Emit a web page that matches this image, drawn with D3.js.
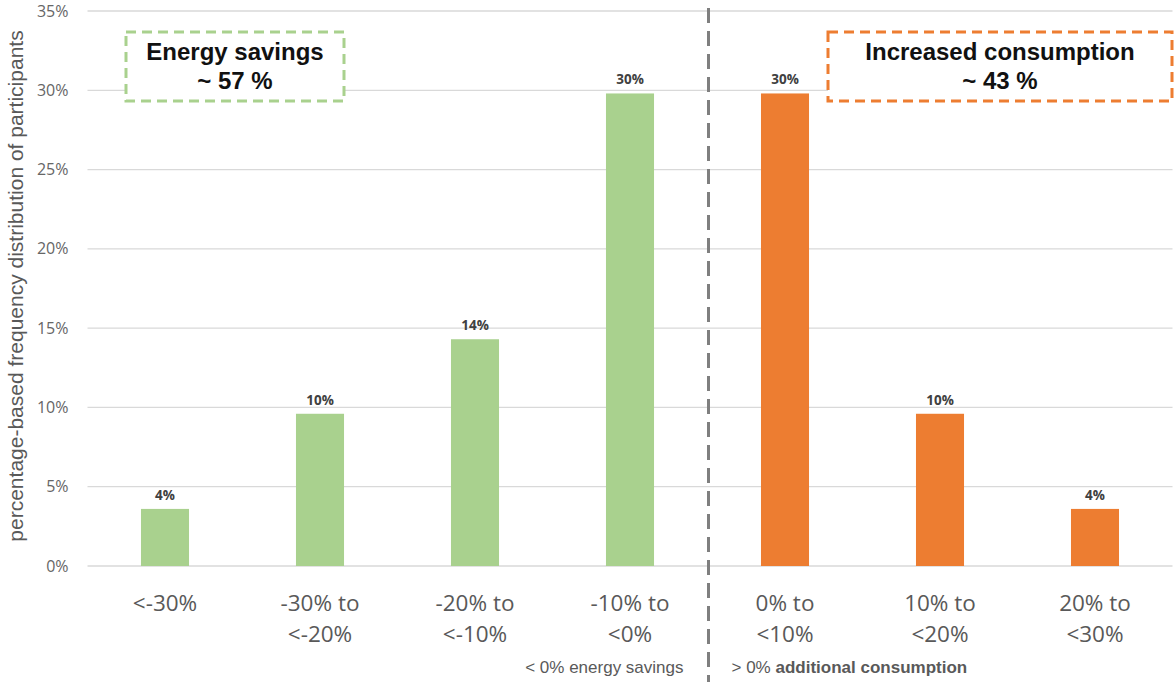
<!DOCTYPE html>
<html>
<head>
<meta charset="utf-8">
<script src="https://cdn.jsdelivr.net/npm/d3@7"></script>
<style>
  html, body { margin: 0; padding: 0; background: #fff; }
  svg { display: block; }
</style>
</head>
<body>
<svg id="chart" width="1174" height="682"></svg>
<script>
// Change bands of energy use and the share of participants in each
const categories = [
  ["<-30%"],
  ["-30% to", "<-20%"],
  ["-20% to", "<-10%"],
  ["-10% to", "<0%"],
  ["0% to", "<10%"],
  ["10% to", "<20%"],
  ["20% to", "<30%"]
];
const shares = [0.036, 0.096, 0.143, 0.298, 0.298, 0.096, 0.036];
const groups = ["savings", "savings", "savings", "savings", "increase", "increase", "increase"];
const yTicks = [0, 0.05, 0.10, 0.15, 0.20, 0.25, 0.30, 0.35];
const boxTitles = ["Energy savings", "Increased consumption"];
const boxTotals = ["~ 57 %", "~ 43 %"];

const colors = { savings: "#A9D18E", increase: "#ED7D31" };

const svg = d3.select("#chart");
const margin = { left: 87.5, right: 1.5, top: 11, bottom: 116 };
const W = 1174, H = 682;

const x = d3.scaleBand()
  .domain(d3.range(categories.length))
  .range([margin.left, W - margin.right])
  .paddingInner(0.69)
  .paddingOuter(0.345);

const y = d3.scaleLinear()
  .domain([0, 0.35])
  .range([H - margin.bottom, margin.top]);

// Horizontal gridlines
svg.append("g")
  .selectAll("line")
  .data(yTicks)
  .join("line")
  .attr("x1", margin.left)
  .attr("x2", W - margin.right)
  .attr("y1", d => y(d))
  .attr("y2", d => y(d))
  .attr("stroke", "#d9d9d9")
  .attr("stroke-width", 1.3);

// Y axis tick labels
const yAxis = d3.axisLeft(y)
  .tickValues(yTicks)
  .tickFormat(d3.format(".0%"))
  .tickSize(0)
  .tickPadding(19);
svg.append("g")
  .attr("transform", `translate(${margin.left},0)`)
  .call(yAxis)
  .call(g => g.select(".domain").remove())
  .call(g => g.selectAll("text")
    .attr("font-family", "'Open Sans', sans-serif")
    .attr("font-size", 16)
    .attr("fill", "#666"));

// Y axis title
svg.append("text")
  .attr("transform", `translate(23,286) rotate(-90)`)
  .attr("text-anchor", "middle")
  .attr("font-family", "'Liberation Sans', Arial, sans-serif")
  .attr("font-size", 21)
  .attr("fill", "#595959")
  .text("percentage-based frequency distribution of participants");

// Bars
svg.append("g")
  .selectAll("rect")
  .data(shares)
  .join("rect")
  .attr("x", (d, i) => x(i))
  .attr("width", x.bandwidth())
  .attr("y", d => y(d))
  .attr("height", d => y(0) - y(d))
  .attr("fill", (d, i) => colors[groups[i]]);

// Value labels above bars
svg.append("g")
  .selectAll("text")
  .data(shares)
  .join("text")
  .attr("x", (d, i) => x(i) + x.bandwidth() / 2)
  .attr("y", d => y(d) - 9)
  .attr("text-anchor", "middle")
  .attr("font-family", "'Open Sans', sans-serif")
  .attr("font-weight", "bold")
  .attr("font-size", 13.5)
  .attr("fill", "#404040")
  .text(d => d3.format(".0%")(d));

// Category labels (two lines)
const xl = svg.append("g")
  .selectAll("text")
  .data(categories)
  .join("text")
  .attr("x", (d, i) => x(i) + x.bandwidth() / 2)
  .attr("y", 611)
  .attr("text-anchor", "middle")
  .attr("font-family", "'Open Sans', sans-serif")
  .attr("font-size", 22.5)
  .attr("fill", "#595959");
xl.selectAll("tspan")
  .data(d => d)
  .join("tspan")
  .attr("x", function () { return d3.select(this.parentNode).attr("x"); })
  .attr("dy", (d, i) => i === 0 ? 0 : 31)
  .text(d => d);

// Divider between savings and increased consumption
const divX = (x(3) + x.bandwidth() + x(4)) / 2 + 1;
svg.append("line")
  .attr("x1", divX).attr("x2", divX)
  .attr("y1", 8).attr("y2", H)
  .attr("stroke", "#7f7f7f")
  .attr("stroke-width", 3)
  .attr("stroke-dasharray", "15,8");

// Side captions under the axis
svg.append("text")
  .attr("x", divX - 25)
  .attr("y", 673)
  .attr("text-anchor", "end")
  .attr("font-family", "'Liberation Sans', Arial, sans-serif")
  .attr("font-size", 17)
  .attr("fill", "#595959")
  .text("< 0% energy savings");
const rc = svg.append("text")
  .attr("x", divX + 23)
  .attr("y", 673)
  .attr("font-family", "'Liberation Sans', Arial, sans-serif")
  .attr("font-size", 17)
  .attr("fill", "#595959");
rc.append("tspan").text("> 0% ");
rc.append("tspan").attr("font-weight", "bold").text("additional consumption");

// Annotation boxes
const boxes = [
  { x0: 126, x1: 344, color: colors.savings },
  { x0: 828, x1: 1172, color: colors.increase }
];
boxes.forEach((b, i) => {
  svg.append("rect")
    .attr("x", b.x0).attr("y", 32)
    .attr("width", b.x1 - b.x0).attr("height", 69)
    .attr("fill", "#fff")
    .attr("stroke", b.color)
    .attr("stroke-width", 3)
    .attr("stroke-dasharray", "10,6");
  const cx = (b.x0 + b.x1) / 2;
  svg.append("text")
    .attr("x", cx).attr("y", 60)
    .attr("text-anchor", "middle")
    .attr("font-family", "'Liberation Sans', Arial, sans-serif")
    .attr("font-weight", "bold")
    .attr("font-size", 24)
    .attr("fill", "#111")
    .text(boxTitles[i]);
  svg.append("text")
    .attr("x", cx).attr("y", 89)
    .attr("text-anchor", "middle")
    .attr("font-family", "'Liberation Sans', Arial, sans-serif")
    .attr("font-weight", "bold")
    .attr("font-size", 24)
    .attr("fill", "#111")
    .text(boxTotals[i]);
});
</script>
</body>
</html>
